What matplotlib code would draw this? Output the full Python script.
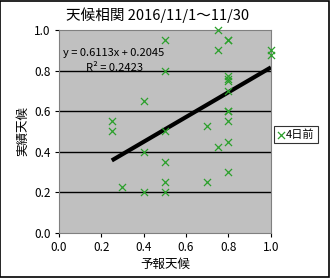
import matplotlib
matplotlib.use("Agg")
import matplotlib.pyplot as plt
import numpy as np

plt.rcParams['font.family'] = ['Noto Sans CJK JP', 'DejaVu Sans']

forecast = [0.5, 0.75, 0.8, 0.8, 0.75, 1.0, 1.0, 0.5, 0.8, 0.8, 0.8, 0.4, 0.8, 0.8,
            0.8, 0.25, 0.25, 0.7, 0.5, 0.8, 0.75, 0.4, 0.5, 0.8, 0.3, 0.5, 0.7, 0.4, 0.5, 0.8]
actual = [0.95, 1.0, 0.95, 0.95, 0.9, 0.9, 0.875, 0.8, 0.775, 0.75, 0.7, 0.65, 0.6, 0.6,
          0.55, 0.55, 0.5, 0.525, 0.5, 0.45, 0.425, 0.4, 0.35, 0.3, 0.225, 0.25, 0.25, 0.2, 0.2, 0.76]
slope = 0.6113
intercept = 0.2045
r2 = 0.2423
title = "天候相関 2016/11/1～11/30"
series_name = "4日前"
xticks = [0.0, 0.2, 0.4, 0.6, 0.8, 1.0]
yticks = [0.0, 0.2, 0.4, 0.6, 0.8, 1.0]

fig = plt.figure(figsize=(3.3, 2.78), dpi=100)
fig.patch.set_facecolor('white')
ax = fig.add_axes([0.178, 0.162, 0.643, 0.730])
ax.set_facecolor('#c0c0c0')
ax.set_xlim(0, 1)
ax.set_ylim(0, 1)
for y in yticks[1:-1]:
    ax.axhline(y, color='black', lw=1.0, zorder=1)

ax.scatter(forecast, actual, marker='x', s=26, color='#2ca02c', linewidths=0.9,
           zorder=3, label=series_name, clip_on=False)
xs = np.array([min(forecast), max(forecast)])
ax.plot(xs, slope * xs + intercept, color='black', lw=3, zorder=2, solid_capstyle='butt')

ax.text(0.02, 0.885, f"y = {slope}x + {intercept}", transform=ax.transAxes,
        fontsize=8, ha='left', va='center')
ax.text(0.13, 0.812, f"R² = {r2}", transform=ax.transAxes,
        fontsize=8, ha='left', va='center')

ax.set_xticks(xticks)
ax.set_yticks(yticks)
ax.set_xticklabels([f"{v:.1f}" for v in xticks], fontsize=8.5)
ax.set_yticklabels([f"{v:.1f}" for v in yticks], fontsize=8.5)
ax.tick_params(direction='out', length=3, width=0.8, color='black', pad=3)
for s in ax.spines.values():
    s.set_color('#808080')
    s.set_linewidth(0.8)
ax.set_xlabel("予報天候", fontsize=9, labelpad=3)
ax.set_ylabel("実績天候", fontsize=9, labelpad=3)
fig.text(0.476, 0.945, title, ha='center', va='center', fontsize=10.5)

leg = fig.legend(loc='center left', bbox_to_anchor=(0.830, 0.516), fontsize=8,
                 frameon=True, fancybox=False, edgecolor='black', handlelength=0.6,
                 handletextpad=0.2, borderpad=0.3, borderaxespad=0)
leg.get_frame().set_linewidth(0.8)

fig.add_artist(plt.Rectangle((0.0015, 0.002), 0.996, 0.995, transform=fig.transFigure,
                             fill=False, edgecolor='black', lw=1.2))
fig.savefig("out.png", dpi=100)
